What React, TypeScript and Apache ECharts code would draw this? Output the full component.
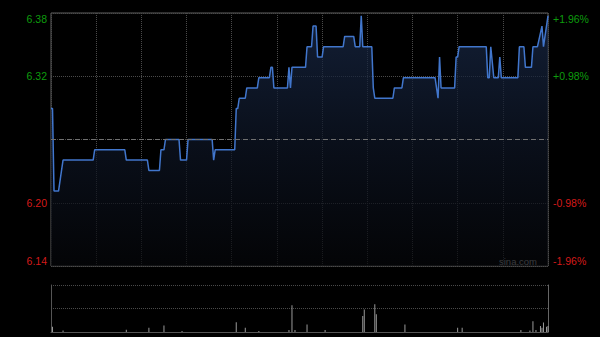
import React, { useEffect, useRef } from 'react';
import * as echarts from 'echarts';

// ---- data (HK session, minute index 0..330) ----
const PREV_CLOSE = 6.26;
const PCT_RANGE = 1.96;
const PCT_STEP = 0.98;
const SESSION_MINUTES = 330;

const priceMinutes = [
  0, 1, 2, 5, 7, 8, 28, 29, 49, 50, 64, 65, 72, 73, 75, 76, 85, 86, 90, 91,
  107, 108, 109, 122, 123, 124, 125, 129, 130, 137, 138, 145, 146, 147, 148,
  157, 158, 159, 160, 169, 170, 173, 174, 176, 177, 180, 181, 194, 195, 201,
  202, 205, 206, 207, 213, 214, 215, 227, 228, 233, 234, 255, 257, 258, 259,
  268, 269, 270, 271, 289, 290, 291, 292, 294, 297, 298, 299, 310, 311, 314,
  315, 319, 320, 323, 326, 327, 330,
];
const priceValues = [
  6.29, 6.29, 6.21, 6.21, 6.23, 6.24, 6.24, 6.25, 6.25, 6.24, 6.24, 6.23, 6.23, 6.25, 6.25, 6.26, 6.26, 6.24, 6.24, 6.26,
  6.26, 6.24, 6.25, 6.25, 6.29, 6.29, 6.30, 6.30, 6.31, 6.31, 6.32, 6.32, 6.33, 6.33, 6.31,
  6.31, 6.33, 6.31, 6.33, 6.33, 6.35, 6.35, 6.37, 6.37, 6.34, 6.34, 6.35, 6.35, 6.36, 6.36,
  6.35, 6.35, 6.38, 6.35, 6.35, 6.31, 6.30, 6.30, 6.31, 6.31, 6.32, 6.32, 6.30, 6.34, 6.31,
  6.31, 6.34, 6.34, 6.35, 6.35, 6.32, 6.32, 6.35, 6.32, 6.32, 6.34, 6.32, 6.32, 6.35, 6.35,
  6.33, 6.33, 6.35, 6.35, 6.37, 6.35, 6.38,
];

const volumeMinutes = [
  1, 8, 50, 65, 75, 87, 123, 129, 138, 158, 160, 162, 170, 182, 207, 208, 215, 216,
  235, 270, 273, 312, 318, 320, 322, 325, 326, 327, 329, 330,
];
const volumeValues = [
  11, 3, 5, 9, 14, 2, 21, 9, 2, 4, 57, 4, 16, 4, 34, 48, 59, 38,
  16, 9, 9, 4, 3, 23, 4, 13, 9, 20, 11, 13,
];

const GREEN = '#0d9c0d';
const RED = '#d41a1a';

export default function App() {
  const ref = useRef<HTMLDivElement>(null);

  useEffect(() => {
    document.body.style.margin = '0';
    document.body.style.background = '#000';
    const chart = echarts.init(ref.current!, null, { renderer: 'svg' });

    const lineData = priceMinutes.map((m, i) => [m, (priceValues[i] / PREV_CLOSE - 1) * 100]);
    const volData = volumeMinutes.map((m, i) => [m, volumeValues[i]]);

    const labelColor = (v: any) => {
      const n = parseFloat(v);
      return n > 0.001 ? GREEN : n < -0.001 ? RED : '#888';
    };
    const dotted = { color: '#4a4a4a', type: [1, 1] as any, width: 1 };
    const font = { fontFamily: 'Liberation Sans, Arial, sans-serif', fontSize: 10.5 };

    chart.setOption({
      animation: false,
      backgroundColor: '#000',
      grid: [
        { left: 51, right: 52, top: 13, height: 253, show: true, borderColor: '#5e5e5e', borderWidth: 1, backgroundColor: 'transparent' },
        { left: 51, right: 52, top: 285, height: 47, show: false },
      ],
      xAxis: [
        {
          type: 'value', gridIndex: 0, min: 0, max: SESSION_MINUTES, interval: 30,
          axisLine: { show: false }, axisTick: { show: false }, axisLabel: { show: false },
          splitLine: { show: true, lineStyle: dotted },
        },
        {
          type: 'value', gridIndex: 1, min: 0, max: SESSION_MINUTES, interval: 30,
          axisLine: { show: true, lineStyle: { color: '#555' } }, axisTick: { show: false },
          axisLabel: { show: false }, splitLine: { show: false },
        },
      ],
      yAxis: [
        {
          type: 'value', gridIndex: 0, position: 'left',
          min: -PCT_RANGE, max: PCT_RANGE, interval: PCT_STEP,
          axisLine: { show: false }, axisTick: { show: false },
          splitLine: { show: true, lineStyle: dotted },
          axisLabel: {
            ...font, margin: 4, color: labelColor,
            verticalAlignMinLabel: 'bottom', verticalAlignMaxLabel: 'top',
            formatter: (v: number) => (Math.abs(v) < 1e-6 ? '' : (PREV_CLOSE * (1 + v / 100)).toFixed(2)),
          },
        },
        {
          type: 'value', gridIndex: 0, position: 'right',
          min: -PCT_RANGE, max: PCT_RANGE, interval: PCT_STEP,
          axisLine: { show: false }, axisTick: { show: false }, splitLine: { show: false },
          axisLabel: {
            ...font, margin: 5, color: labelColor,
            verticalAlignMinLabel: 'bottom', verticalAlignMaxLabel: 'top',
            formatter: (v: number) => (Math.abs(v) < 1e-6 ? '' : (v > 0 ? '+' : '') + v.toFixed(2) + '%'),
          },
        },
        {
          type: 'value', gridIndex: 1, position: 'left', min: 0, max: 100, interval: 50,
          axisLine: { show: true, lineStyle: { color: '#555' } }, axisTick: { show: false },
          axisLabel: { show: false }, splitLine: { show: true, lineStyle: { color: '#4a4a4a', type: [1, 1] as any } },
        },
        {
          type: 'value', gridIndex: 1, position: 'right', min: 0, max: 100, interval: 50,
          axisLine: { show: true, lineStyle: { color: '#666' } }, axisTick: { show: false },
          axisLabel: { show: false }, splitLine: { show: false },
        },
      ],
      graphic: [
        {
          type: 'text', left: 499, top: 256,
          style: { text: 'sina.com', fill: '#b4b4b4', font: '9.5px Liberation Sans, Arial, sans-serif' },
        },
      ],
      series: [
        {
          type: 'line', xAxisIndex: 0, yAxisIndex: 0, data: lineData,
          showSymbol: false, symbol: 'none', smooth: false,
          lineStyle: { color: '#4176cc', width: 1.5 },
          areaStyle: {
            origin: 'start',
            color: new echarts.graphic.LinearGradient(0, 0, 0, 1, [
              { offset: 0, color: '#1a2b4b' },
              { offset: 0.5, color: '#0e1626' },
              { offset: 1, color: '#050609' },
            ]),
          },
          markLine: {
            silent: true, symbol: 'none', label: { show: false },
            lineStyle: { color: '#707070', type: [5, 3], width: 1 },
            data: [{ yAxis: 0 }],
          },
          z: 3,
        },
        {
          type: 'bar', xAxisIndex: 1, yAxisIndex: 2, data: volData,
          barWidth: 1, itemStyle: { color: '#999999' },
        },
      ],
    });
    return () => chart.dispose();
  }, []);

  return <div ref={ref} style={{ width: 600, height: 337, background: '#000' }} />;
}
